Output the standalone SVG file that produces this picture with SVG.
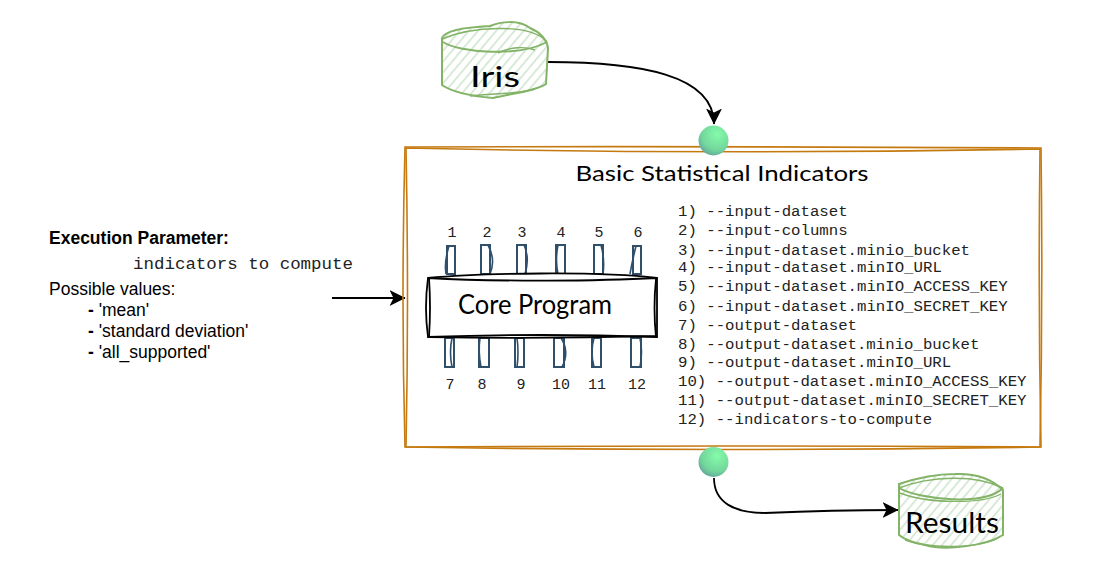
<svg xmlns="http://www.w3.org/2000/svg" width="1107" height="567" viewBox="0 0 1107 567">
<style>
.hand{font-family:"Lato","Open Sans","DejaVu Sans",sans-serif;fill:#000}
.mono{font-family:"Liberation Mono",monospace;font-size:14.5px;fill:#222}
.num{font-family:"Liberation Mono",monospace;font-size:15px;fill:#222;text-anchor:middle}
.sans{font-family:"Liberation Sans",Arial,sans-serif;font-size:17.5px;fill:#000}
.frame{fill:none;stroke:#c57a10;stroke-width:1.6}
.cyl{fill:none;stroke:#82b366;stroke-width:2}
.cylt{fill:none;stroke:#82b366;stroke-width:1.4}
.pin{fill:#fff;stroke:#2f4f6b;stroke-width:2}
.pinb{fill:none;stroke:#2f4f6b;stroke-width:1.6}
.core{fill:none;stroke:#000;stroke-width:1.8}
.conn{fill:none;stroke:#000;stroke-width:1.8}
</style>
<defs>
<pattern id="hatch" width="7" height="7" patternUnits="userSpaceOnUse" patternTransform="rotate(40)">
<rect width="7" height="7" fill="#fff"/><rect width="1.8" height="7" fill="#d5e8d4"/>
</pattern>
<radialGradient id="ball" cx="0.62" cy="0.3" r="0.8">
<stop offset="0" stop-color="#85fba9"/><stop offset="0.65" stop-color="#72d69c"/><stop offset="1" stop-color="#5f9a9c"/>
</radialGradient>
<marker id="arrow" viewBox="0 0 16 16" refX="15.500" refY="8" markerWidth="16" markerHeight="16" markerUnits="userSpaceOnUse" orient="auto">
<path d="M0 0L16 8L0 16L4 8Z" fill="#000"/>
</marker>
</defs>

<g id="connectors">
<path class="conn" marker-end="url(#arrow)" d="M548 62C640 62 714 75 714 124"/>
<path class="conn" marker-end="url(#arrow)" d="M714 478C714 503 735 513 765 513C810 511 860 510 898 510"/>
<path class="conn" marker-end="url(#arrow)" d="M332 298L405 298"/>
</g>

<g id="main-box">
<path class="frame" d="M405 147Q720 146 1041 148Q1043 300 1040 447Q720 445 405 447Q401 300 405 147Z"/>
<path class="frame" d="M406 148Q720 155 1040 149Q1038 300 1041 447Q720 452 406 447Q409 300 406 148Z"/>
<text class="hand" x="722" y="181" text-anchor="middle" font-size="22" textLength="293" lengthAdjust="spacingAndGlyphs">Basic Statistical Indicators</text>
</g>

<g id="iris">
<path d="M442 38C448 30 470 27 490 26C500 22 520 20 530 28C540 32 548 40 548 48L546 84C535 90 515 95 493 98C470 95 452 92 442 85Z" fill="url(#hatch)"/>
<path class="cyl" d="M442 38C445 30 470 27 490 26C500 22 518 19 530 28C540 32 547 40 548 48L546 84C535 91 515 93 493 98C470 96 452 92 442 85Z"/>
<path class="cylt" d="M442 39C470 27 530 22 547 42"/>
<path class="cyl" d="M443 42C460 53 520 57 547 42"/>
<path class="cylt" d="M498 53C510 47 525 46 535 50M470 96C490 93 515 95 535 89"/>
<text class="hand" x="495" y="87" text-anchor="middle" font-size="29" textLength="50" lengthAdjust="spacingAndGlyphs">Iris</text>
</g>

<g id="results">
<path d="M899 484C920 477 940 474 955 474C980 473 995 482 1003 490L1003 535C985 546 945 551 925 545C915 543 905 540 899 535Z" fill="url(#hatch)"/>
<path class="cyl" d="M899 484C920 477 940 474 955 474C980 473 995 482 1003 490L1003 535C985 546 945 551 925 545C915 543 905 540 899 535Z"/>
<path class="cylt" d="M899 488C930 476 975 474 1003 488"/>
<path class="cyl" d="M899 488C920 500 985 506 1003 488"/>
<path class="cylt" d="M900 493C925 503 980 505 1001 494M905 540C930 549 980 549 1000 537"/>
<text class="hand" x="952" y="533" text-anchor="middle" font-size="28" textLength="94" lengthAdjust="spacingAndGlyphs">Results</text>
</g>

<g id="core-program">
<g id="pins-top">
<rect class="pin" x="447" y="246" width="8" height="28"/><path class="pinb" d="M449 246Q444 262 446 274"/>
<rect class="pin" x="481" y="245" width="9" height="29"/><path class="pinb" d="M488 245Q496 260 490 274"/>
<rect class="pin" x="517" y="245" width="9" height="29"/><path class="pinb" d="M524 245Q530 258 525 274"/>
<rect class="pin" x="556" y="245" width="9" height="29"/><path class="pinb" d="M558 245Q555 260 558 274"/>
<rect class="pin" x="594" y="245" width="9" height="29"/><path class="pinb" d="M601 245Q605 260 603 274"/>
<rect class="pin" x="633" y="246" width="8" height="28"/><path class="pinb" d="M636 246Q632 262 630 274"/>
</g>
<g id="pins-bottom">
<rect class="pin" x="445" y="338" width="9" height="29"/><path class="pinb" d="M452 338Q449 352 452 367"/>
<rect class="pin" x="479" y="338" width="10" height="29"/><path class="pinb" d="M480 338Q478 352 481 367"/>
<rect class="pin" x="515" y="338" width="9" height="29"/><path class="pinb" d="M517 338Q519 352 517 367"/>
<rect class="pin" x="554" y="338" width="10" height="29"/><path class="pinb" d="M561 338Q570 352 562 367"/>
<rect class="pin" x="592" y="338" width="9" height="29"/><path class="pinb" d="M594 338Q590 352 594 367"/>
<rect class="pin" x="631" y="338" width="10" height="29"/><path class="pinb" d="M640 338Q643 352 640 367"/>
</g>
<path d="M428 278C480 273 600 271 657 278L657 337Q540 334 428 337Q424 308 428 278Z" fill="#fff"/>
<path class="core" d="M428 278C480 273 600 271 657 278"/>
<path class="core" d="M428 278C500 282 600 281 657 278L657 337Q540 333 428 337Q424 308 428 278Z"/>
<path class="core" d="M656 279Q653 308 656 337M429 278Q431 308 429 337M430 337Q540 339 655 336"/>
<text class="hand" x="535" y="314" text-anchor="middle" font-size="26" textLength="154" lengthAdjust="spacingAndGlyphs">Core Program</text>
<text class="num" x="452" y="237">1</text><text class="num" x="487" y="237">2</text><text class="num" x="522" y="237">3</text><text class="num" x="561" y="237">4</text><text class="num" x="599" y="237">5</text><text class="num" x="638" y="237">6</text>
<text class="num" x="450" y="389">7</text><text class="num" x="482" y="389">8</text><text class="num" x="521" y="389">9</text><text class="num" x="561" y="389">10</text><text class="num" x="597" y="389">11</text><text class="num" x="637" y="389">12</text>
</g>

<g id="args" class="mono" style="white-space:pre">
<text x="678" y="216" textLength="169.600" lengthAdjust="spacingAndGlyphs">1) --input-dataset</text>
<text x="678" y="235" textLength="169.600" lengthAdjust="spacingAndGlyphs">2) --input-columns</text>
<text x="678" y="255" textLength="292" lengthAdjust="spacingAndGlyphs">3) --input-dataset.minio_bucket</text>
<text x="678" y="272" textLength="263.800" lengthAdjust="spacingAndGlyphs">4) --input-dataset.minIO_URL</text>
<text x="678" y="291" textLength="329.700" lengthAdjust="spacingAndGlyphs">5) --input-dataset.minIO_ACCESS_KEY</text>
<text x="678" y="311" textLength="329.700" lengthAdjust="spacingAndGlyphs">6) --input-dataset.minIO_SECRET_KEY</text>
<text x="678" y="330" textLength="179" lengthAdjust="spacingAndGlyphs">7) --output-dataset</text>
<text x="678" y="349" textLength="301.400" lengthAdjust="spacingAndGlyphs">8) --output-dataset.minio_bucket</text>
<text x="678" y="367" textLength="273.200" lengthAdjust="spacingAndGlyphs">9) --output-dataset.minIO_URL</text>
<text x="678" y="386" textLength="348.500" lengthAdjust="spacingAndGlyphs">10) --output-dataset.minIO_ACCESS_KEY</text>
<text x="678" y="405" textLength="348.500" lengthAdjust="spacingAndGlyphs">11) --output-dataset.minIO_SECRET_KEY</text>
<text x="678" y="424" textLength="254.300" lengthAdjust="spacingAndGlyphs">12) --indicators-to-compute</text>
</g>

<g id="ball-top"><circle cx="713.500" cy="140.500" r="15" fill="url(#ball)"/></g>
<g id="ball-bottom"><circle cx="713.500" cy="462" r="15" fill="url(#ball)"/></g>

<g id="execution-parameter">
<text class="sans" x="49" y="244" font-weight="bold">Execution Parameter:</text>
<text x="133" y="269" style="font-family:'Liberation Mono',monospace;font-size:16px;fill:#222" textLength="220" lengthAdjust="spacingAndGlyphs">indicators to compute</text>
<text class="sans" x="49" y="295">Possible values:</text>
<text class="sans" x="88" y="316"><tspan font-weight="bold">-</tspan> 'mean'</text>
<text class="sans" x="88" y="337"><tspan font-weight="bold">-</tspan> 'standard deviation'</text>
<text class="sans" x="88" y="358"><tspan font-weight="bold">-</tspan> 'all_supported'</text>
</g>
</svg>
